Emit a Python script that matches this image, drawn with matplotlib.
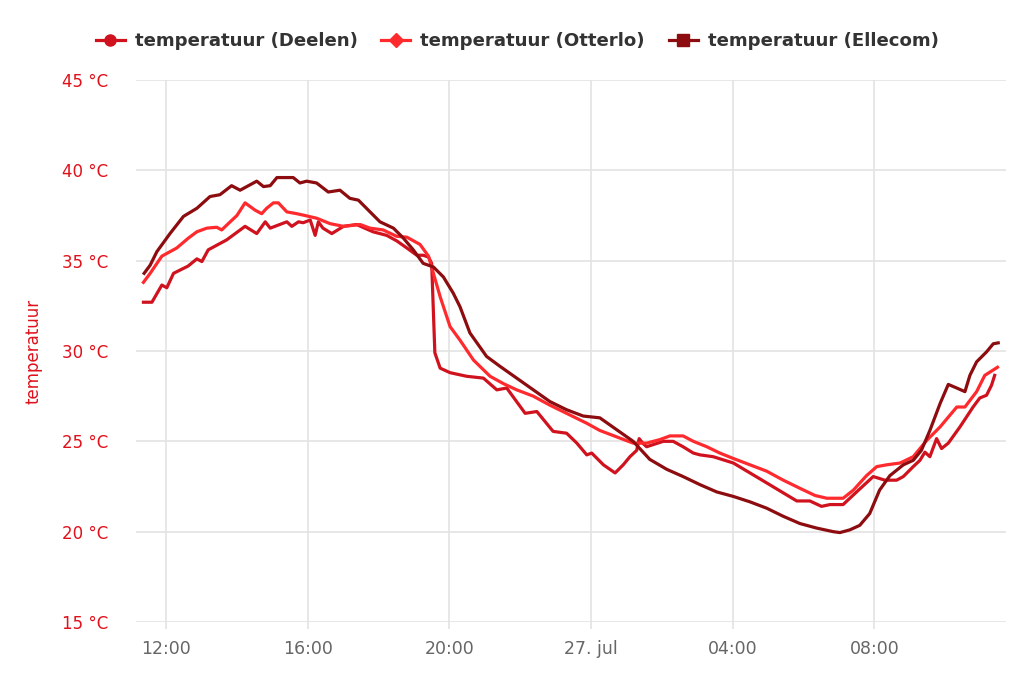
import matplotlib.pyplot as plt
from matplotlib.lines import Line2D
from matplotlib.ticker import FuncFormatter

# hours counted from midnight of 26 July
deelen_t = [11.36, 11.60, 11.88, 12.02, 12.21, 12.62, 12.87, 13.01, 13.19, 13.71,
            14.23, 14.56, 14.80, 14.94, 15.41, 15.55, 15.74, 15.87, 16.07, 16.21,
            16.30, 16.43, 16.68, 17.01, 17.38, 17.84, 18.23, 18.51, 18.80, 19.08,
            19.26, 19.41, 19.50, 19.59, 19.74, 20.02, 20.49, 20.96, 21.34, 21.62,
            22.14, 22.47, 22.93, 23.31, 23.60, 23.88, 24.02, 24.35, 24.68, 24.91,
            25.10, 25.29, 25.36, 25.46, 25.57, 26.04, 26.32, 26.60, 26.89, 27.08,
            27.45, 28.02, 28.96, 29.81, 30.18, 30.51, 30.75, 31.12, 31.50, 31.97,
            32.30, 32.63, 32.82, 33.10, 33.29, 33.43, 33.57, 33.76, 33.90, 34.09,
            34.42, 34.79, 34.98, 35.17, 35.31, 35.40]
deelen = [32.7, 32.7, 33.65, 33.5, 34.3, 34.7, 35.1, 34.95, 35.6, 36.15,
          36.9, 36.5, 37.15, 36.8, 37.15, 36.9, 37.15, 37.1, 37.25, 36.4,
          37.15, 36.8, 36.5, 36.9, 37.0, 36.6, 36.4, 36.1, 35.7, 35.3,
          35.3, 35.2, 34.85, 29.9, 29.05, 28.8, 28.6, 28.5, 27.85, 27.95,
          26.55, 26.65, 25.55, 25.45, 24.9, 24.25, 24.35, 23.7, 23.25, 23.7,
          24.15, 24.5, 25.15, 24.9, 24.7, 25.0, 25.0, 24.7, 24.35, 24.25,
          24.15, 23.8, 22.7, 21.7, 21.7, 21.4, 21.5, 21.5, 22.2, 23.05,
          22.85, 22.85, 23.05, 23.6, 23.95, 24.4, 24.15, 25.15, 24.6, 24.9,
          25.8, 26.9, 27.4, 27.55, 28.1, 28.65]

otterlo_t = [11.36, 11.55, 11.88, 12.30, 12.63, 12.87, 13.15, 13.43, 13.57, 13.81,
             14.00, 14.23, 14.51, 14.70, 14.84, 15.03, 15.17, 15.41, 15.69, 15.92,
             16.25, 16.63, 17.01, 17.48, 17.76, 18.13, 18.51, 18.80, 19.17, 19.41,
             19.74, 20.02, 20.30, 20.68, 21.15, 21.52, 21.90, 22.37, 22.84, 23.31,
             23.88, 24.25, 24.72, 25.19, 25.57, 25.95, 26.23, 26.60, 26.89, 27.27,
             27.64, 28.02, 28.49, 28.96, 29.43, 29.90, 30.33, 30.66, 31.12, 31.41,
             31.78, 32.07, 32.35, 32.73, 33.10, 33.48, 33.86, 34.33, 34.56, 34.89,
             35.12, 35.48]
otterlo = [33.8, 34.3, 35.25, 35.7, 36.25, 36.6, 36.8, 36.85, 36.7, 37.15,
           37.5, 38.2, 37.8, 37.6, 37.9, 38.2, 38.2, 37.7, 37.6, 37.5,
           37.35, 37.05, 36.9, 37.0, 36.8, 36.7, 36.35, 36.3, 35.9, 35.25,
           33.0, 31.35, 30.6, 29.5, 28.6, 28.2, 27.85, 27.5, 27.0, 26.55,
           26.0, 25.6, 25.25, 24.9, 24.9, 25.1, 25.3, 25.3, 25.0, 24.7,
           24.35, 24.05, 23.7, 23.35, 22.85, 22.4, 22.0, 21.85, 21.85, 22.3,
           23.1, 23.6, 23.7, 23.8, 24.15, 25.05, 25.8, 26.9, 26.9, 27.75,
           28.65, 29.1]

ellecom_t = [11.38, 11.55, 11.74, 12.11, 12.49, 12.87, 13.24, 13.52, 13.85, 14.09,
             14.56, 14.75, 14.94, 15.13, 15.59, 15.78, 15.97, 16.25, 16.58, 16.91,
             17.19, 17.43, 17.76, 18.04, 18.42, 18.70, 18.98, 19.26, 19.55, 19.83,
             20.11, 20.30, 20.58, 21.05, 21.43, 21.90, 22.37, 22.84, 23.31, 23.78,
             24.25, 24.72, 25.19, 25.66, 26.14, 26.60, 27.08, 27.55, 28.02, 28.49,
             28.96, 29.43, 29.90, 30.37, 30.84, 31.03, 31.31, 31.59, 31.87, 32.15,
             32.44, 32.82, 33.10, 33.33, 33.57, 33.86, 34.09, 34.33, 34.56, 34.70,
             34.89, 35.17, 35.36, 35.50]
ellecom = [34.3, 34.75, 35.5, 36.5, 37.45, 37.9, 38.55, 38.65, 39.15, 38.9,
           39.4, 39.1, 39.15, 39.6, 39.6, 39.3, 39.4, 39.3, 38.8, 38.9,
           38.45, 38.35, 37.7, 37.15, 36.8, 36.25, 35.6, 34.85, 34.65, 34.1,
           33.2, 32.45, 31.0, 29.7, 29.15, 28.5, 27.85, 27.2, 26.75, 26.4,
           26.3, 25.65, 25.0, 24.0, 23.45, 23.05, 22.6, 22.2, 21.95, 21.65,
           21.3, 20.85, 20.45, 20.2, 20.0, 19.95, 20.1, 20.35, 21.0, 22.3,
           23.1, 23.7, 23.95, 24.5, 25.6, 27.1, 28.15, 27.95, 27.75, 28.65,
           29.4, 29.95, 30.4, 30.45]

x_ticks = [12, 16, 20, 24, 28, 32]
y_ticks = [15, 20, 25, 30, 35, 40, 45]

c_deelen = '#d0121e'
c_otterlo = '#ff2a2e'
c_ellecom = '#8c0c0f'
grid_col = '#e3e3e3'

fig = plt.figure(figsize=(10.24, 6.83), dpi=100)
ax = fig.add_axes([136/1024, 1 - 622/683, 870/1024, 542/683])

ax.plot(deelen_t, deelen, color=c_deelen, lw=2.3, solid_joinstyle='round')
ax.plot(otterlo_t, otterlo, color=c_otterlo, lw=2.3, solid_joinstyle='round')
ax.plot(ellecom_t, ellecom, color=c_ellecom, lw=2.3, solid_joinstyle='round')

ax.set_xlim(11.15, 35.72)
ax.set_ylim(15, 45)
ax.set_xticks(x_ticks)
ax.set_yticks(y_ticks)

def fmt_x(h, pos):
    h = int(round(h))
    if h % 24 == 0:
        return '%d. jul' % (26 + h // 24)
    return '%02d:00' % (h % 24)

ax.xaxis.set_major_formatter(FuncFormatter(fmt_x))
ax.yaxis.set_major_formatter(FuncFormatter(lambda v, p: '%d °C' % v))

ax.grid(True, color=grid_col, lw=1.2)
ax.set_axisbelow(True)
for s in ax.spines.values():
    s.set_visible(False)
ax.tick_params(axis='x', length=5, width=1.2, color=grid_col, colors='#666666',
               labelsize=12.5, pad=8)
ax.tick_params(axis='y', length=0, colors='#e0111b', labelsize=12, pad=20)
ax.set_ylabel('temperatuur', color='#e0111b', fontsize=12, labelpad=14)

handles = [
    Line2D([], [], color=c_deelen, lw=2.3, marker='o', markersize=8),
    Line2D([], [], color=c_otterlo, lw=2.3, marker='D', markersize=7),
    Line2D([], [], color=c_ellecom, lw=2.3, marker='s', markersize=8),
]
labels = ['temperatuur (Deelen)', 'temperatuur (Otterlo)', 'temperatuur (Ellecom)']
fig.legend(handles, labels, loc='center', bbox_to_anchor=(0.505, 1 - 41/683),
           ncol=3, frameon=False, handlelength=1.6, handletextpad=0.55,
           columnspacing=1.3, prop={'weight': 'bold', 'size': 13.1},
           labelcolor='#333333')

fig.savefig('out.png', dpi=100)
